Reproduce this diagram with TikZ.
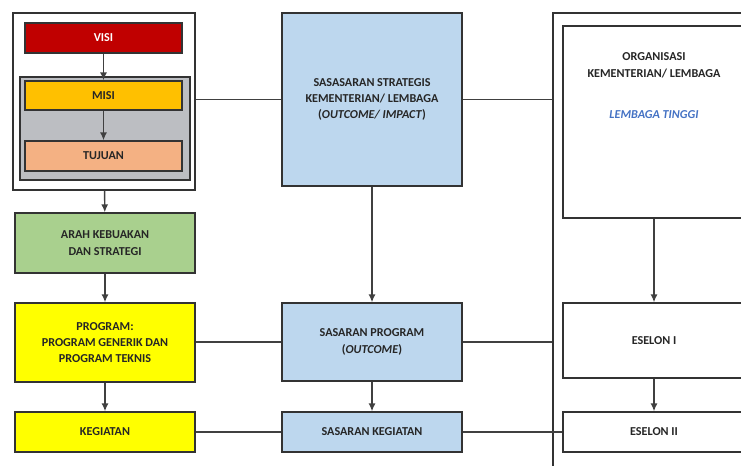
\documentclass[tikz,border=0pt]{standalone}
\usepackage{fontspec}
\setmainfont{Carlito}
\usetikzlibrary{positioning,arrows.meta}

\definecolor{merah}{RGB}{192,0,0}
\definecolor{jingga}{RGB}{255,192,0}
\definecolor{persik}{RGB}{244,177,131}
\definecolor{abu}{RGB}{188,190,194}
\definecolor{hijau}{RGB}{169,208,142}
\definecolor{kuning}{RGB}{255,255,0}
\definecolor{biru}{RGB}{189,215,238}
\definecolor{birutulis}{RGB}{68,114,196}

\tikzset{
  caja/.style={draw=black!80, line width=0.8pt, align=center,
    font=\bfseries\fontsize{6.9}{9.3}\selectfont, text=black!85},
  linea/.style={draw=black!75, line width=0.8pt},
  flecha/.style={linea, -{Latex[length=4.5pt,width=4pt]}}
}

\begin{document}
\begin{tikzpicture}
        \useasboundingbox (0,0) rectangle (14.82,-9.3);
        \clip (0,0) rectangle (14.82,-9.3);

        % Columna izquierda
        \node[caja, minimum width=3.64cm, minimum height=3.54cm] (marco) at (2.08,-2.03) {};
        \node[caja, fill=abu, minimum width=3.4cm, minimum height=2.06cm] (gris) at (2.1,-2.57) {};
        \node[caja, fill=merah, text=white, minimum width=3.14cm, minimum height=0.6cm] (visi) at (2.07,-0.76) {VISI};
        \node[caja, fill=jingga, minimum width=3.14cm, minimum height=0.58cm] (misi) at (2.07,-1.91) {MISI};
        \node[caja, fill=persik, minimum width=3.14cm, minimum height=0.6cm] (tujuan) at (2.07,-3.12) {TUJUAN};
        \node[caja, fill=hijau, minimum width=3.6cm, minimum height=1.2cm] (arah) at (2.1,-4.86) {ARAH KEBUAKAN\\DAN STRATEGI};
        \node[caja, fill=kuning, minimum width=3.6cm, minimum height=1.58cm] (program) at (2.1,-6.85) {PROGRAM:\\PROGRAM GENERIK DAN\\PROGRAM TEKNIS};
        \node[caja, fill=kuning, minimum width=3.6cm, minimum height=0.8cm] (kegiatan) at (2.1,-8.64) {KEGIATAN};

        % Columna central
        \node[caja, fill=biru, minimum width=3.6cm, minimum height=3.46cm] (strategis) at (7.44,-1.99) {SASASARAN STRATEGIS\\KEMENTERIAN/ LEMBAGA\\(\textit{OUTCOME/ IMPACT})};
        \node[caja, fill=biru, minimum width=3.6cm, minimum height=1.56cm] (sprogram) at (7.44,-6.84) {SASARAN PROGRAM\\(\textit{OUTCOME})};
        \node[caja, fill=biru, minimum width=3.6cm, minimum height=0.8cm] (skegiatan) at (7.44,-8.64) {SASARAN KEGIATAN};

        % Columna derecha
        \node[caja, minimum width=4.94cm, minimum height=10.14cm] (bingkai) at (13.53,-5.33) {};
        \node[caja, fill=white, minimum width=3.64cm, minimum height=3.84cm] (org) at (13.08,-2.44) {};
        \node[caja, draw=none, below=0.42cm of org.north] (orgteks) {ORGANISASI\\KEMENTERIAN/ LEMBAGA\\[4.2ex]{\color{birutulis}\textit{LEMBAGA TINGGI}}};
        \node[caja, fill=white, minimum width=3.64cm, minimum height=1.5cm] (eselon1) at (13.08,-6.81) {ESELON I};
        \node[caja, fill=white, minimum width=3.64cm, minimum height=0.8cm] (eselon2) at (13.08,-8.64) {ESELON II};

        % Flechas
        \draw[flecha] (visi) -- (misi);
        \draw[flecha] (misi) -- (tujuan);
        \draw[flecha] (marco) -- (arah);
        \draw[flecha] (arah) -- (program);
        \draw[flecha] (program) -- (kegiatan);
        \draw[flecha] (strategis) -- (sprogram);
        \draw[flecha] (sprogram) -- (skegiatan);
        \draw[flecha] (org.south -| eselon1.north) -- (eselon1);
        \draw[flecha] (eselon1) -- (eselon2);

        % Lineas horizontales
        \draw[linea] (strategis.west -| marco.east) -- (strategis.west);
        \draw[linea] (strategis.east) -- (strategis.east -| bingkai.west);
        \draw[linea] (sprogram.west -| program.east) -- (sprogram.west);
        \draw[linea] (sprogram.east) -- (sprogram.east -| bingkai.west);
        \draw[linea] (kegiatan.east) -- (skegiatan.west);
        \draw[linea] (skegiatan.east) -- (eselon2.west);
    \end{tikzpicture}
\end{document}
